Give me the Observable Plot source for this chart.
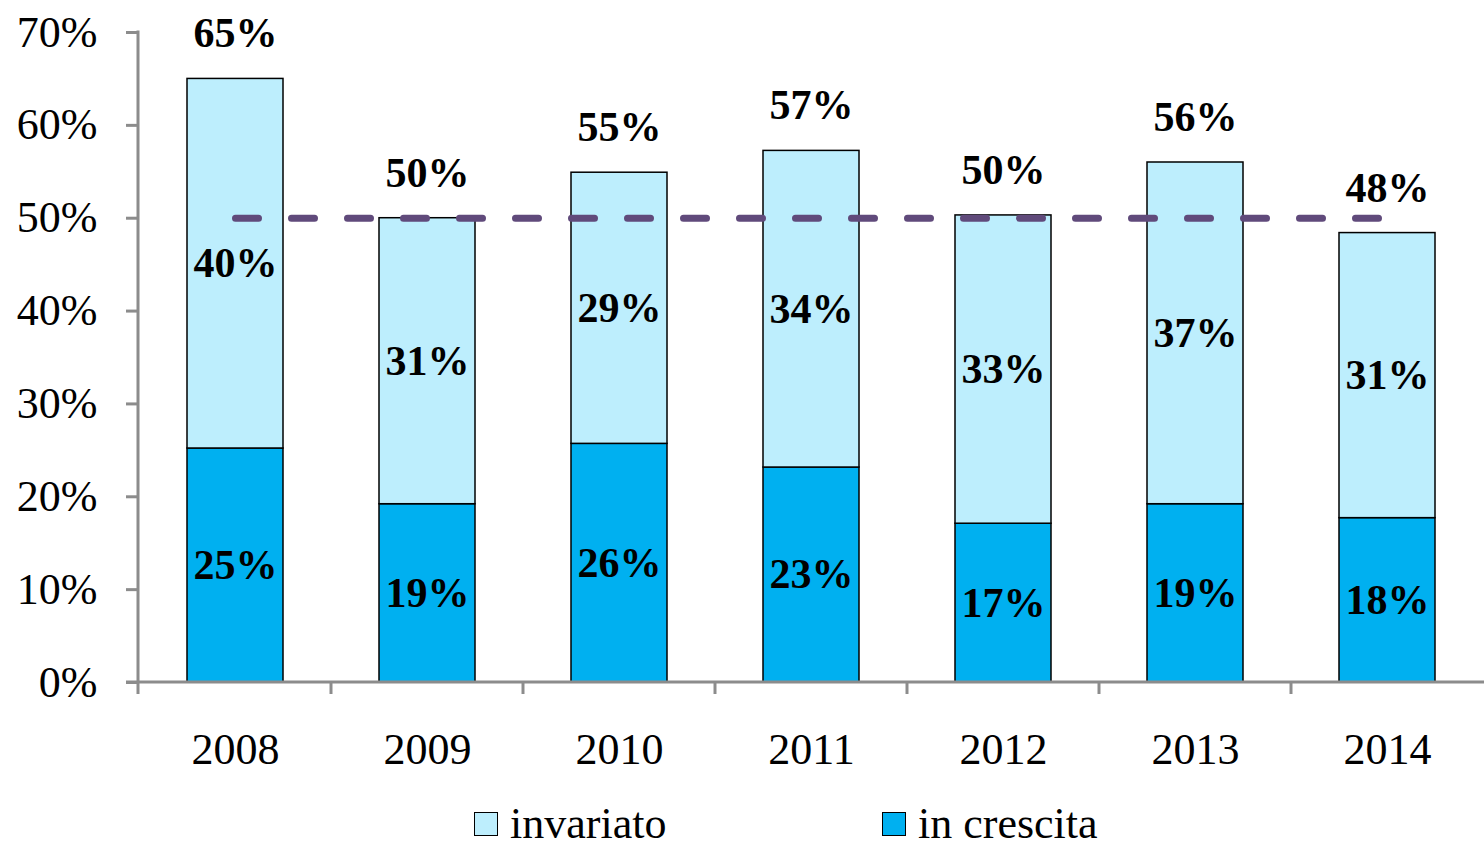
<!DOCTYPE html>
<html>
<head>
<meta charset="utf-8">
<script src="https://cdn.jsdelivr.net/npm/d3@7"></script>
<script src="https://cdn.jsdelivr.net/npm/@observablehq/plot@0.6"></script>
<style>
  html, body { margin: 0; padding: 0; background: #fff; }
  #wrap { width: 1484px; font-family: "Liberation Serif", "DejaVu Serif", serif; }
  #legend { position: relative; width: 1484px; height: 57px; font-size: 44px; }
  .item { position: absolute; top: 12px; height: 44px; display: flex; align-items: center; }
  .item span { line-height: 1; }
  .sw { width: 22px; height: 22px; border: 1.5px solid #000; margin-right: 12px; }
</style>
</head>
<body>
<div id="wrap">
  <div id="chart"></div>
  <div id="legend"></div>
</div>
<script>
const years = ["2008", "2009", "2010", "2011", "2012", "2013", "2014"];
const inCrescita = [25.2, 19.2, 25.7, 23.15, 17.1, 19.2, 17.7];
const invariato = [39.8, 30.8, 29.2, 34.1, 33.2, 36.8, 30.7];
const soglia = [50, 50, 50, 50, 50, 50, 50];
const seriesNames = ["in crescita", "invariato"];
const seriesColors = ["#00B0F0", "#BDEEFD"];
const yTicks = [0, 10, 20, 30, 40, 50, 60, 70];

const rows = [];
years.forEach((y, i) => {
  rows.push({year: y, serie: "in crescita", value: inCrescita[i]});
  rows.push({year: y, serie: "invariato", value: invariato[i]});
});
const totals = years.map((y, i) => ({year: y, total: inCrescita[i] + invariato[i]}));
const line = years.map((y, i) => ({year: y, v: soglia[i]}));

const axisColor = "#8c8c8c";

function axesLines(index, scales, values, dimensions) {
  const g = d3.create("svg:g");
  const x = scales.x, y = scales.y;
  const left = dimensions.marginLeft;
  const right = dimensions.width - dimensions.marginRight;
  const y0 = y(0), yTop = y(70);
  g.append("line").attr("x1", left).attr("x2", left).attr("y1", yTop - 1.5).attr("y2", y0 + 12)
    .attr("stroke", axisColor).attr("stroke-width", 3);
  g.append("line").attr("x1", left - 12).attr("x2", right).attr("y1", y0).attr("y2", y0)
    .attr("stroke", axisColor).attr("stroke-width", 3);
  let bw = 0;
  if (typeof x.bandwidth === "function") bw = x.bandwidth();
  else if (scales.scales && scales.scales.x && typeof scales.scales.x.bandwidth === "number") bw = scales.scales.x.bandwidth;
  years.forEach((yr, i) => {
    if (i === 0) return;
    const bx = (x(years[i - 1]) + x(yr)) / 2 + bw / 2;
    g.append("line").attr("x1", bx).attr("x2", bx).attr("y1", y0).attr("y2", y0 + 12)
      .attr("stroke", axisColor).attr("stroke-width", 3);
  });
  return g.node();
}

const chart = Plot.plot({
  width: 1484,
  height: 790,
  marginLeft: 138,
  marginRight: 0,
  marginTop: 32,
  marginBottom: 108,
  style: {fontFamily: "'Liberation Serif', 'DejaVu Serif', serif", background: "#fff", overflow: "visible"},
  x: {domain: years, paddingInner: 0.5, paddingOuter: 0.25, label: null},
  y: {domain: [0, 70], label: null},
  color: {domain: seriesNames, range: seriesColors},
  marks: [
    Plot.barY(rows, {x: "year", y: "value", z: "serie", fill: "serie", order: seriesNames, stroke: "#000", strokeWidth: 1.5}),
    axesLines,
    Plot.axisY({ticks: yTicks, tickFormat: d => d + "%", tickSize: 12, tickPadding: 29, stroke: axisColor, strokeWidth: 3, fontSize: 44, fill: "#000"}),
    Plot.axisX({tickSize: 0, tickPadding: 50, fontSize: 44, fill: "#000"}),
    Plot.lineY(line, {x: "year", y: "v", stroke: "#604A7B", strokeWidth: 7, strokeDasharray: "23,33", strokeLinecap: "round"}),
    Plot.text(rows, Plot.stackY({x: "year", y: "value", z: "serie", order: seriesNames, text: d => Math.round(d.value) + "%", fontSize: 42, fontWeight: "bold", fill: "#000"})),
    Plot.text(totals, {x: "year", y: "total", text: d => Math.round(d.total) + "%", dy: -45, fontSize: 42, fontWeight: "bold", fill: "#000"})
  ]
});
document.getElementById("chart").appendChild(chart);

const legendItems = [
  {name: "invariato", color: seriesColors[1], left: 474},
  {name: "in crescita", color: seriesColors[0], left: 882}
];
const legend = document.getElementById("legend");
legendItems.forEach(it => {
  const d = document.createElement("div");
  d.className = "item";
  d.style.left = it.left + "px";
  const sw = document.createElement("div");
  sw.className = "sw";
  sw.style.background = it.color;
  const t = document.createElement("span");
  t.textContent = it.name;
  d.appendChild(sw); d.appendChild(t);
  legend.appendChild(d);
});
</script>
</body>
</html>
